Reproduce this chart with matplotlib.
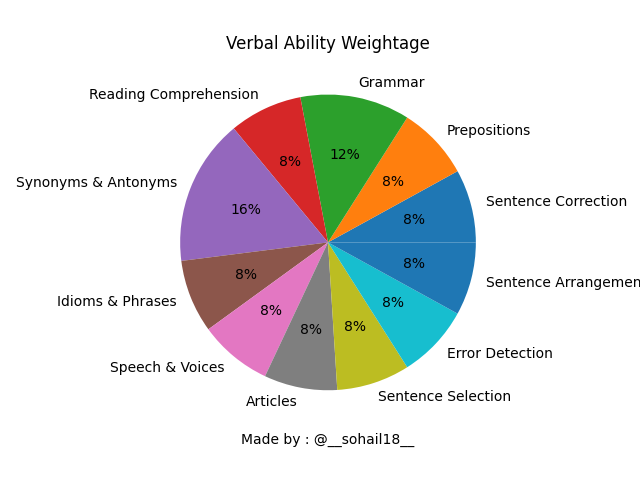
import matplotlib
matplotlib.use('Agg')
import matplotlib.pyplot as plt

topics = ['Sentence Correction', 'Prepositions', 'Grammar', 'Reading Comprehension',
          'Synonyms & Antonyms', 'Idioms & Phrases', 'Speech & Voices', 'Articles',
          'Sentence Selection', 'Error Detection', 'Sentence Arrangement']
weights = [2, 2, 3, 2, 4, 2, 2, 2, 2, 2, 2]

plt.pie(weights, labels=topics, autopct='%1.0f%%')
plt.title('Verbal Ability Weightage')
plt.xlabel('Made by : @__sohail18__')

plt.savefig('out.png')
